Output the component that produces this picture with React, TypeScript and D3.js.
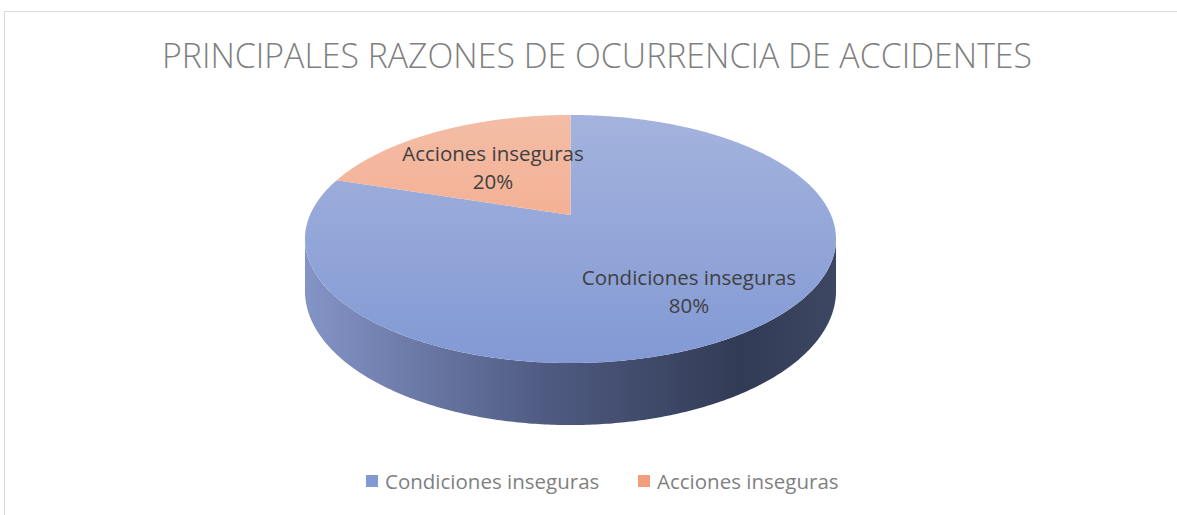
import * as d3 from 'd3';

const title = 'PRINCIPALES RAZONES DE OCURRENCIA DE ACCIDENTES';
const categories = ['Condiciones inseguras', 'Acciones inseguras'];
const values = [80, 20];
const topColors = [['#a4b3dd', '#8299d4'], ['#f4bda6', '#f29f7d']];

const W = 1177;
const H = 515;
const cx = 570.5;
const cy = 215;
const rx = 260.5;
const ry = 119.4;
const persp = 0.1935;
const depth = 50;
const font = '"Open Sans", "Liberation Sans", sans-serif';

// perspective projection of a point on the pie disc (angle a, radius r in 0..1)
function project(a: number, r = 1, drop = 0): [number, number] {
  const s = Math.sin(a) * r;
  const c = Math.cos(a) * r;
  const f = 1 + persp * c;
  return [cx + (rx * s) / f, cy - (ry * c) / f + drop / f];
}

function arcPoints(a0: number, a1: number, drop = 0): [number, number][] {
  const n = Math.max(8, Math.ceil(Math.abs(a1 - a0) / 0.01));
  return d3.range(n + 1).map(i => project(a0 + ((a1 - a0) * i) / n, 1, drop));
}

export default function App() {
  const pie = d3.pie<number>().sort(null).startAngle(0).endAngle(2 * Math.PI);
  const arcs = pie(values);
  const line = d3.line();
  const total = d3.sum(values);
  const pct = d3.format('.0%');

  // visible outer wall, between the two silhouette angles
  const aR = Math.acos(-persp);
  const aL = 2 * Math.PI - aR;
  const wallTop = arcPoints(aR, aL);
  const wallBottom = arcPoints(aR, aL, depth).reverse();
  const wallPath = line([...wallTop, ...wallBottom]) + 'Z';

  const labelR = (i: number) => (i === 0 ? 0.69 : 0.55);

  return (
    <svg width={W} height={H} style={{ position: 'absolute', left: 0, top: 0 }}>
      <defs>
        <linearGradient id="wall" gradientUnits="userSpaceOnUse" x1={cx - rx - 5} x2={cx + rx + 5} y1={0} y2={0}>
          <stop offset="0%" stopColor="#8494c6" />
          <stop offset="45%" stopColor="#4f5b82" />
          <stop offset="82%" stopColor="#323b55" />
          <stop offset="100%" stopColor="#3d4762" />
        </linearGradient>
        {topColors.map((c, i) => (
          <linearGradient key={i} id={`top${i}`} gradientUnits="userSpaceOnUse" x1={0} x2={0} y1={cy - 100} y2={cy + 148}>
            <stop offset="0%" stopColor={c[0]} />
            <stop offset="100%" stopColor={c[1]} />
          </linearGradient>
        ))}
      </defs>
      <rect x={0} y={0} width={W} height={H} fill="#ffffff" />
      <rect x={4.5} y={11.5} width={W + 10} height={H + 10} fill="none" stroke="#d9d9d9" strokeWidth={1} />
      <text x={597} y={68} textAnchor="middle" fontFamily={font} fontWeight={300} fontSize={35}
        fill="#7f7f7f" textLength={870} lengthAdjust="spacingAndGlyphs">{title}</text>

      <path d={wallPath} fill="url(#wall)" />
      {arcs.map((a, i) => {
        const pts = [project(0, 0), ...arcPoints(a.startAngle, a.endAngle)];
        return <path key={i} d={line(pts) + 'Z'} fill={`url(#top${i})`} />;
      })}

      {arcs.map((a, i) => {
        const [lx, ly] = project((a.startAngle + a.endAngle) / 2, labelR(i));
        return (
          <g key={i} fontFamily={font} fontSize={20.5} fill="#404040" textAnchor="middle">
            <text x={lx} y={ly - 5}>{categories[i]}</text>
            <text x={lx} y={ly + 23}>{pct(values[i] / total)}</text>
          </g>
        );
      })}

      {categories.map((c, i) => {
        const x0 = i === 0 ? 366 : 638;
        return (
          <g key={i}>
            <rect x={x0} y={475} width={12} height={12} fill={`url(#top${i})`} />
            <rect x={x0} y={475} width={12} height={12} fill={topColors[i][1]} opacity={0.6} />
            <text x={x0 + 19} y={489} fontFamily={font} fontSize={20.5} fill="#7f7f7f">{c}</text>
          </g>
        );
      })}
    </svg>
  );
}
